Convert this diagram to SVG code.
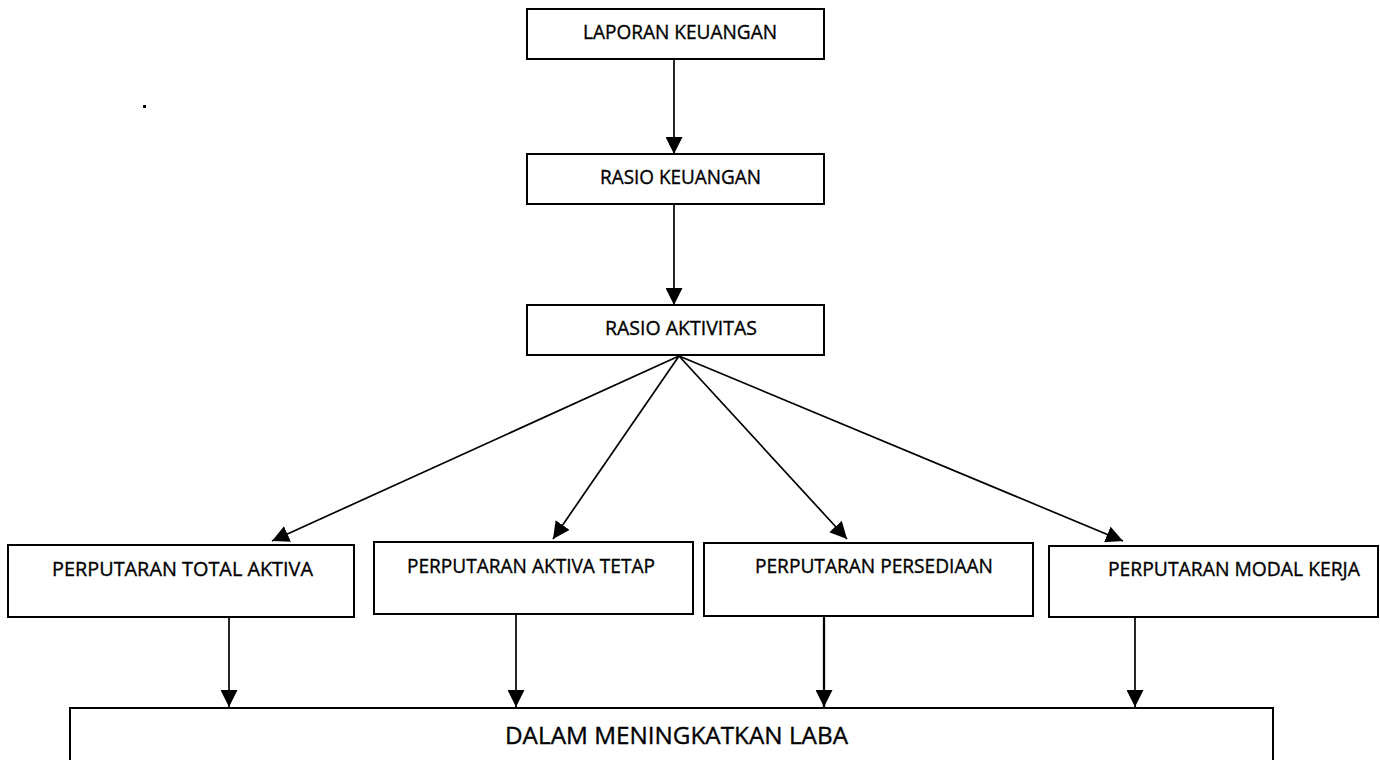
<svg xmlns="http://www.w3.org/2000/svg" width="1380" height="760" viewBox="0 0 1380 760">
<style>
.box{fill:#fff;stroke:#000;stroke-width:2}
.t{font-family:"Open Sans","Noto Sans",sans-serif;fill:#000;stroke:#000;stroke-width:0.35;font-size:20px}
.tb{font-family:"Open Sans","Noto Sans",sans-serif;fill:#000;stroke:#000;stroke-width:0.35;font-size:24px}
.ln{stroke:#000;stroke-width:1.7;fill:none;marker-end:url(#ah)}
</style>
<defs>
<marker id="ah" markerUnits="userSpaceOnUse" markerWidth="17" markerHeight="17" viewBox="0 0 17 17" refX="17" refY="8.5" orient="auto">
<path d="M0,0 L17,8.5 L0,17 Z" fill="#000"/>
</marker>
</defs>
<rect x="143" y="105" width="3" height="3" fill="#000"/>
<g id="connectors">
<line class="ln" x1="674" y1="59" x2="674" y2="154"/>
<line class="ln" x1="674" y1="204" x2="674" y2="305"/>
<line class="ln" x1="679" y1="356" x2="272" y2="541"/>
<line class="ln" x1="679" y1="356" x2="553" y2="539"/>
<line class="ln" x1="679" y1="356" x2="847" y2="539"/>
<line class="ln" x1="679" y1="356" x2="1123" y2="541"/>
<line class="ln" x1="229" y1="617" x2="229" y2="707"/>
<line class="ln" x1="516" y1="614" x2="516" y2="707"/>
<line class="ln" x1="824" y1="613" x2="824" y2="707" style="stroke-width:2.3"/>
<line class="ln" x1="1135" y1="613" x2="1135" y2="707"/>
</g>
<g id="laporan">
<rect class="box" x="527" y="9" width="297" height="50"/>
<text class="t" x="583" y="39" textLength="194" lengthAdjust="spacingAndGlyphs">LAPORAN KEUANGAN</text>
</g>
<g id="rasio-keuangan">
<rect class="box" x="527" y="154" width="297" height="50"/>
<text class="t" x="600" y="184" textLength="161" lengthAdjust="spacingAndGlyphs">RASIO KEUANGAN</text>
</g>
<g id="rasio-aktivitas">
<rect class="box" x="527" y="305" width="297" height="50"/>
<text class="t" x="605" y="335" textLength="152" lengthAdjust="spacingAndGlyphs">RASIO AKTIVITAS</text>
</g>
<g id="total-aktiva">
<rect class="box" x="8" y="545" width="346" height="72"/>
<text class="t" x="52" y="576" textLength="261" lengthAdjust="spacingAndGlyphs">PERPUTARAN TOTAL AKTIVA</text>
</g>
<g id="aktiva-tetap">
<rect class="box" x="374" y="542" width="319" height="72"/>
<text class="t" x="407" y="573" textLength="248" lengthAdjust="spacingAndGlyphs">PERPUTARAN AKTIVA TETAP</text>
</g>
<g id="persediaan">
<rect class="box" x="704" y="543" width="329" height="73"/>
<text class="t" x="755" y="573" textLength="238" lengthAdjust="spacingAndGlyphs">PERPUTARAN PERSEDIAAN</text>
</g>
<g id="modal-kerja">
<rect class="box" x="1049" y="546" width="329" height="71"/>
<text class="t" x="1108" y="576" textLength="252" lengthAdjust="spacingAndGlyphs">PERPUTARAN MODAL KERJA</text>
</g>
<g id="laba">
<rect class="box" x="70" y="708" width="1203" height="70"/>
<text class="tb" x="505" y="744" textLength="343" lengthAdjust="spacingAndGlyphs">DALAM MENINGKATKAN LABA</text>
</g>
</svg>
